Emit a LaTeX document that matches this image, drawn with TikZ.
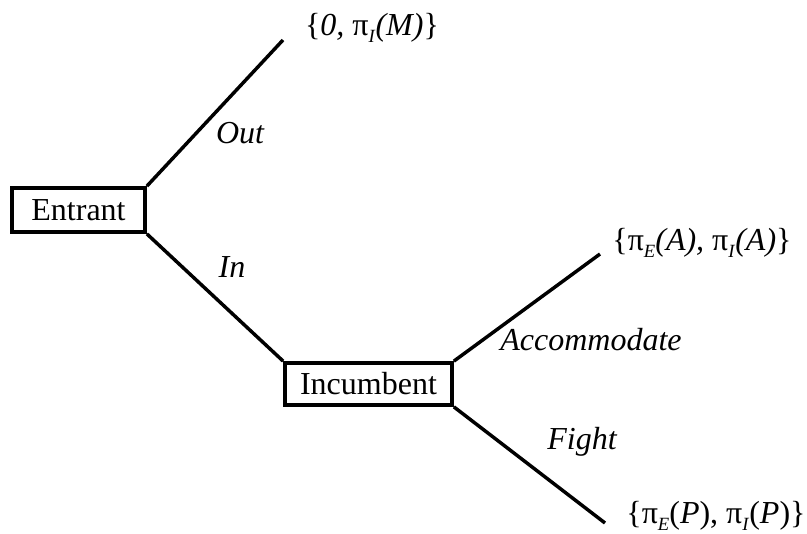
\documentclass[tikz,border=0pt]{standalone}
\usepackage{fontspec}
\setmainfont{Liberation Serif}
\newcommand{\sbs}[1]{\raisebox{-0.45ex}{\fontsize{14}{16}\selectfont\textit{#1}}}
\begin{document}
\begin{tikzpicture}[x=0.75pt,y=-0.75pt,
  player/.style={draw,line width=2.8pt,inner sep=0pt,font=\fontsize{24}{28}\selectfont},
  branch/.style={line width=2.6pt},
  lbl/.style={font=\fontsize{24}{28}\selectfont\itshape,inner sep=0pt},
  pay/.style={font=\fontsize{24}{28}\selectfont,inner sep=0pt}]
\useasboundingbox (0,0) rectangle (807,533);
\node[player,minimum width=133*0.75pt,minimum height=44*0.75pt] (ent) at (78.5,210) {Entrant};
\node[player,minimum width=167*0.75pt,minimum height=42*0.75pt] (inc) at (368.5,384) {Incumbent};
\coordinate (eM) at (283,40);
\coordinate (eA) at (600,254);
\coordinate (eP) at (605,523);
\draw[branch] (ent.north east) -- (eM);
\draw[branch] (ent.south east) -- (inc.north west);
\draw[branch] (inc.north east) -- (eA);
\draw[branch] (inc.south east) -- (eP);
\node[pay] (pM) at (372,28) {\{\textit{0,} π\sbs{I}\textit{(M)}\}};
\node[pay] (pA) at (702,243) {\{π\sbs{E}\textit{(A),} π\sbs{I}\textit{(A)}\}};
\node[pay] (pP) at (716,516) {\{π\sbs{E}(\textit{P}), π\sbs{I}(\textit{P})\}};
\node[lbl] (out) at (240,133) {Out};
\node[lbl] (in) at (232,267) {In};
\node[lbl] (acc) at (591,340) {Accommodate};
\node[lbl] (fig) at (582,442) {Fight};
\end{tikzpicture}
\end{document}
